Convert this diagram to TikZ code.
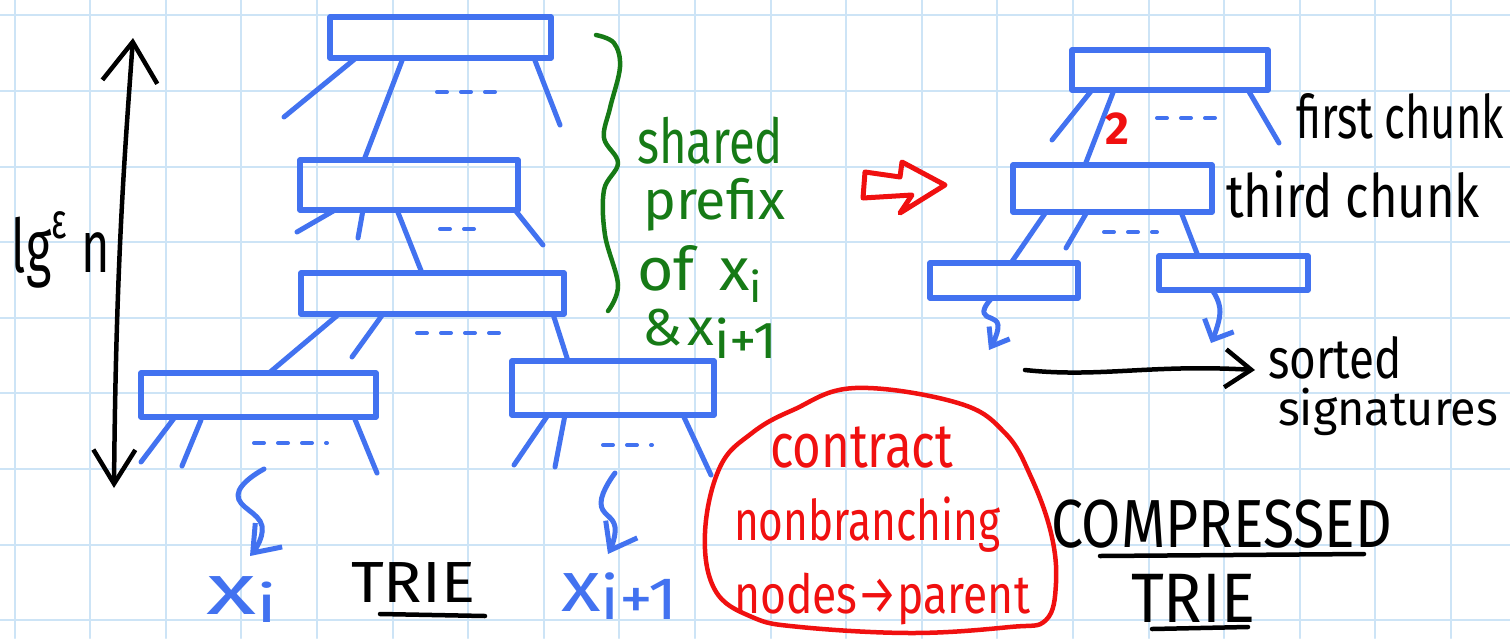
\documentclass[tikz,border=0pt]{standalone}
\usepackage{fontspec}
\setmainfont{Fira Sans}
\usepackage{graphicx}
\usetikzlibrary{arrows.meta,calc}
\definecolor{gridc}{RGB}{205,228,246}
\definecolor{pblue}{RGB}{66,114,240}
\definecolor{pgreen}{RGB}{22,122,22}
\definecolor{pred}{RGB}{240,16,16}
\newcommand\fw[3]{\resizebox{#1pt}{\height}{\fontsize{#2}{#2}\selectfont #3}}
\begin{document}
\begin{tikzpicture}[x=1pt,y=-1pt,line cap=round,line join=round,
  gridln/.style={draw=gridc,line width=2pt},
  tbox/.style={draw=pblue,line width=5.5pt,rectangle,inner sep=0pt,outer sep=0pt},
  bl/.style={draw=pblue,line width=5pt},
  dotsb/.style={draw=pblue,line width=4pt,dash pattern=on 10pt off 14pt},
  squig/.style={draw=pblue,line width=5pt,-{Straight Barb[length=24pt,width=36pt]}},
  blk/.style={draw=black,line width=4.5pt},
  txt/.style={anchor=base west,inner sep=0pt,outer sep=0pt},
  btxt/.style={txt,text=black},
  gtxt/.style={txt,text=pgreen},
  rtxt/.style={txt,text=pred},
  bltxt/.style={txt,text=pblue}]
\useasboundingbox[fill=white] (0,0) rectangle (1510,638);
% grid
\foreach \i in {0,...,19} \draw[gridln] ({14.5+75.6*\i},0) -- ++(0,638);
\foreach \j in {0,...,8} \draw[gridln] (0,{15.3+75.6*\j}) -- ++(1510,0);

% ---------- left trie ----------
\node[tbox,minimum width=221pt,minimum height=41pt] (b1) at (440.5,37.5) {};
\node[tbox,minimum width=218pt,minimum height=50pt] (b2) at (409,185) {};
\node[tbox,minimum width=263pt,minimum height=41pt] (b3) at (432.5,293.5) {};
\node[tbox,minimum width=235pt,minimum height=44pt] (b4) at (258.5,395) {};
\node[tbox,minimum width=202pt,minimum height=54pt] (b5) at (613,388) {};

\draw[bl] ([xshift=-84.5pt]b1.south) -- ++(-72,59);
\draw[bl] ([xshift=-37.5pt]b1.south) -- ([xshift=-45pt]b2.north);
\draw[bl] ([xshift=93.5pt]b1.south) -- ++(26,67);
\draw[dotsb] (437,92) -- (506,92);

\draw[bl] ([xshift=-74pt]b2.south) -- ++(-38,22);
\draw[bl] ([xshift=-46pt]b2.south) -- ++(-5,28);
\draw[bl] ([xshift=-12pt]b2.south) -- ([xshift=-10.5pt]b3.north);
\draw[bl] ([xshift=106pt]b2.south) -- ++(28,35);
\draw[dotsb] (440,229) -- (487,229);

\draw[bl] ([xshift=-93.5pt]b3.south) -- ([xshift=10.5pt]b4.north);
\draw[bl] ([xshift=-49.5pt]b3.south) -- ++(-31,43);
\draw[bl] ([xshift=120.5pt]b3.south) -- ([xshift=-45pt]b5.north);
\draw[dotsb] (417,333) -- (499,333);

\draw[bl] ([xshift=-83.5pt]b4.south) -- ++(-34,45);
\draw[bl] ([xshift=-57.5pt,yshift=-3pt]b4.south) -- ++(-19,46);
\draw[bl] ([xshift=95.5pt]b4.south) -- ++(23,56);
\draw[dotsb] (254,443) -- (327,443);

\draw[bl] ([xshift=-65pt]b5.south) -- ++(-34,50);
\draw[bl] ([xshift=-48pt]b5.south) -- ++(-10,52);
\draw[bl] ([xshift=70pt]b5.south) -- ++(28,60);
\draw[dotsb] (603,445) -- (652,445);

% squiggles to leaves
\coordinate (sq1) at (264,469);
\draw[squig] plot[smooth,tension=0.8] coordinates {(sq1) (238,495) (262,526) (250,556)};
\coordinate (sq2) at (615,473);
\draw[squig] plot[smooth,tension=0.8] coordinates {(sq2) (601,503) (615,527) (608,554)};

% labels
\node[bltxt] (xi) at (206,614) {\fw{71}{72}{x\raisebox{-0.12em}{\fontsize{52}{52}\selectfont i}}};
\node[bltxt] (xii) at (561,611) {\fw{117}{72}{x\raisebox{-0.12em}{\fontsize{60}{60}\selectfont i+1}}};
\node[btxt] (trie1) at (351,602) {\fw{124}{58}{TRIE}};
\draw[blk] (380,614) -- (485,616);

% height arrow
\coordinate (ltop) at (133,38);
\coordinate (lbot) at (114,488);
\draw[blk,{Straight Barb[length=40pt,width=55pt]}-{Straight Barb[length=34pt,width=42pt]}] (ltop) .. controls (125,150) and (116,260) .. (lbot);
\node[btxt] (lg) at (12,272) {\fw{98}{74}{lg\raisebox{0.45em}{\fontsize{50}{50}\selectfont ε}\hspace{0.3em}n}};

% green brace + text
\draw[draw=pgreen,line width=4.5pt] plot[smooth,tension=0.6] coordinates {(596,35) (614,43) (620,67) (610,108) (604,138) (618,163) (604,190) (605,235) (618,285) (608,311)};
\node[gtxt] (g1) at (637,163) {\fw{146}{62}{shared}};
\node[gtxt] (g2) at (643,219) {\fw{142}{55}{prefix}};
\node[gtxt] (g3) at (637,290) {\fw{125}{60}{of\hspace{0.4em}x\raisebox{-0.2em}{\fontsize{42}{42}\selectfont i}}};
\node[gtxt] (g4) at (642,345) {\fw{135}{52}{\&\hspace{0.1em}x\raisebox{-0.25em}{i+1}}};

% ---------- red transformation arrow ----------
\draw[draw=pred,line width=5pt] (865,172) -- (900,177) -- (902,162) -- (945,185) -- (900,213) -- (912,195) -- (863,198) -- cycle;

% ---------- compressed trie ----------
\node[tbox,minimum width=196pt,minimum height=40pt] (c1) at (1170,70) {};
\node[tbox,minimum width=199pt,minimum height=47pt] (c2) at (1112.5,188.5) {};
\node[tbox,minimum width=148pt,minimum height=35pt] (c3) at (1004,280.5) {};
\node[tbox,minimum width=149pt,minimum height=34pt] (c4) at (1233.5,273) {};

\draw[bl] ([xshift=-78pt]c1.south) -- ++(-40,50);
\draw[bl] ([xshift=-56pt]c1.south) -- ([xshift=-27.5pt]c2.north);
\draw[bl] ([xshift=78pt]c1.south) -- ++(31,53);
\draw[dotsb] (1157,118) -- (1219,118);
\node[text=pred,inner sep=0pt,font=\bfseries] (two) at (1117,129) {\fontsize{46}{46}\selectfont 2};

\draw[bl] ([xshift=-66.5pt]c2.south) -- ([xshift=7pt]c3.north);
\draw[bl] ([xshift=-25.5pt]c2.south) -- ++(-21,36);
\draw[bl] ([xshift=68.5pt]c2.south) -- ([xshift=-35.5pt]c4.north);
\draw[dotsb] (1104,232) -- (1157,232);

\draw[squig,-{Straight Barb[length=16pt,width=24pt]}] plot[smooth,tension=0.8] coordinates {([xshift=-12pt]c3.south) (984,313) (998,325) (989,350)};
\draw[squig,-{Straight Barb[length=16pt,width=32pt]}] plot[smooth,tension=0.8] coordinates {([xshift=-21.5pt]c4.south) (1220,312) (1211,343)};

\node[btxt] (fc) at (1296,138) {\fw{208}{60}{first chunk}};
\node[btxt] (tc) at (1226,217) {\fw{254}{60}{third chunk}};

\coordinate (sa) at (1025,370);
\coordinate (sb) at (1255,370);
\draw[blk,-{Straight Barb[length=26pt,width=38pt]}] (sa) .. controls (1100,378) and (1150,364) .. (sb);
\node[btxt] (so) at (1268,378) {\fw{134}{56}{sorted}};
\node[btxt] (si) at (1278,425) {\fw{220}{48}{signatures}};

% ---------- red note ----------
\draw[draw=pred,line width=4.5pt] plot[smooth cycle,tension=0.65] coordinates {(855,388) (958,403) (1005,433) (1031,477) (1051,533) (1056,583) (1046,620) (1010,627) (912,633) (800,627) (752,617) (715,590) (705,533) (720,467) (752,433) (793,410)};
\node[rtxt] (r1) at (770,467) {\fw{183}{62}{contract}};
\node[rtxt] (r2) at (734,540) {\fw{266}{56}{nonbranching}};
\node[rtxt] (r3) at (734,613) {\fw{296}{54}{nodes→parent}};

\node[btxt] (cp) at (1051,547) {\fw{341}{68}{COMPRESSED}};
\draw[blk] (1100,556) -- (1364,554);
\node[btxt] (trie2) at (1131,622) {\fw{124}{70}{TRIE}};
\draw[blk] (1152,629) -- (1248,627);
\end{tikzpicture}
\end{document}
